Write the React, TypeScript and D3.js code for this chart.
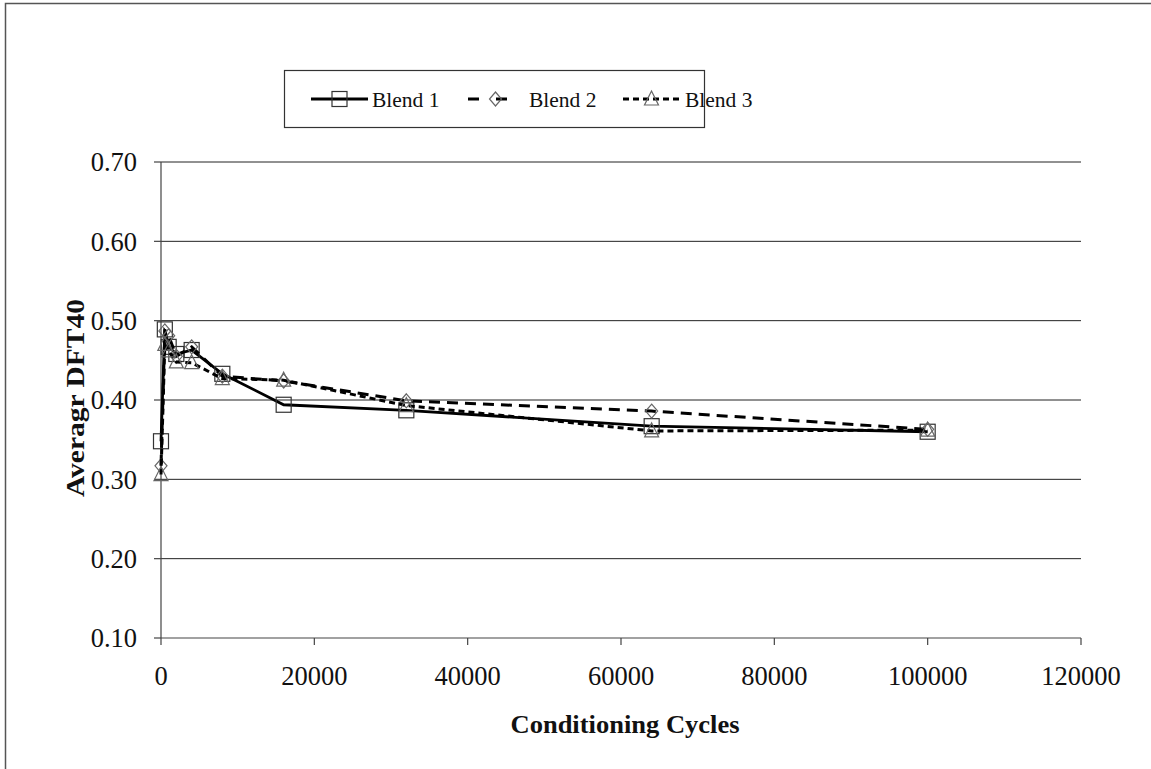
import React from "react";
import * as d3 from "d3";

const cycles = [0, 500, 1000, 2000, 4000, 8000, 16000, 32000, 64000, 100000];
const blend1 = [0.348, 0.489, 0.467, 0.458, 0.463, 0.433, 0.394, 0.387, 0.367, 0.360];
const blend2 = [0.317, 0.487, 0.481, 0.455, 0.467, 0.430, 0.424, 0.399, 0.386, 0.363];
const blend3 = [0.306, 0.470, 0.462, 0.448, 0.447, 0.427, 0.425, 0.393, 0.361, 0.362];
const seriesNames = ["Blend 1", "Blend 2", "Blend 3"];
const xTicks = [0, 20000, 40000, 60000, 80000, 100000, 120000];
const yTicks = [0.1, 0.2, 0.3, 0.4, 0.5, 0.6, 0.7];

const W = 1151;
const H = 769;
const FONT = "'Liberation Serif', 'Times New Roman', serif";

const x = d3.scaleLinear().domain([0, 120000]).range([161, 1081]);
const y = d3.scaleLinear().domain([0.1, 0.7]).range([638, 162]);

type Marker = "square" | "diamond" | "triangle";
const styles: { dash: string; width: number; marker: Marker }[] = [
  { dash: "none", width: 2.8, marker: "square" },
  { dash: "11 7", width: 3, marker: "diamond" },
  { dash: "6 4", width: 3, marker: "triangle" },
];

function MarkerShape({ kind, cx, cy }: { kind: Marker; cx: number; cy: number }) {
  if (kind === "square") {
    return <rect x={cx - 7.5} y={cy - 7.5} width={15} height={15} fill="none" stroke="#333" strokeWidth={1.2} />;
  }
  if (kind === "diamond") {
    return (
      <path
        d={`M${cx},${cy - 7}L${cx + 6},${cy}L${cx},${cy + 7}L${cx - 6},${cy}Z`}
        fill="none"
        stroke="#666"
        strokeWidth={1.2}
      />
    );
  }
  return (
    <path
      d={`M${cx},${cy - 8}L${cx + 7},${cy + 6}L${cx - 7},${cy + 6}Z`}
      fill="none"
      stroke="#666"
      strokeWidth={1.2}
    />
  );
}

export default function App() {
  const data = [blend1, blend2, blend3];
  const line = d3
    .line<number>()
    .x((_, i) => x(cycles[i]))
    .y((v) => y(v));

  const legendItems = [
    { lx: 311, tx: 372 },
    { lx: 467, tx: 529 },
    { lx: 623, tx: 685 },
  ];

  return (
    <svg
      width={W}
      height={H}
      style={{ position: "absolute", left: 0, top: 0, background: "#fff" }}
      fontFamily={FONT}
    >
      <rect x={5.5} y={3.5} width={W + 20} height={H + 20} fill="#fff" stroke="#555" strokeWidth={1.5} />

      {/* gridlines */}
      {yTicks.slice(1).map((t) => (
        <line key={t} x1={x(0)} x2={x(120000)} y1={y(t)} y2={y(t)} stroke="#222" strokeWidth={1} />
      ))}

      {/* axes */}
      <line x1={x(0)} x2={x(0)} y1={y(0.7)} y2={y(0.1)} stroke="#444" strokeWidth={1.2} />
      <line x1={x(0)} x2={x(120000)} y1={y(0.1)} y2={y(0.1)} stroke="#444" strokeWidth={1.2} />
      {yTicks.map((t) => (
        <g key={t}>
          <line x1={x(0) - 7} x2={x(0)} y1={y(t)} y2={y(t)} stroke="#444" strokeWidth={1.2} />
          <text x={137} y={y(t)} dy="0.35em" textAnchor="end" fontSize={26.5} fill="#111">
            {t.toFixed(2)}
          </text>
        </g>
      ))}
      {xTicks.map((t) => (
        <g key={t}>
          <line x1={x(t)} x2={x(t)} y1={y(0.1)} y2={y(0.1) + 7} stroke="#444" strokeWidth={1.2} />
          <text x={x(t)} y={685} textAnchor="middle" fontSize={26.5} fill="#111">
            {t}
          </text>
        </g>
      ))}

      {/* series */}
      {data.map((vals, si) => (
        <g key={si}>
          <path
            d={line(vals) || ""}
            fill="none"
            stroke="#000"
            strokeWidth={styles[si].width}
            strokeDasharray={styles[si].dash}
          />
          {vals.map((v, i) => (
            <MarkerShape key={i} kind={styles[si].marker} cx={x(cycles[i])} cy={y(v)} />
          ))}
        </g>
      ))}

      {/* axis titles */}
      <text
        x={625}
        y={733}
        textAnchor="middle"
        fontSize={25}
        fontWeight="bold"
        fill="#111"
        textLength={229}
        lengthAdjust="spacingAndGlyphs"
      >
        Conditioning Cycles
      </text>
      <text
        transform={`translate(84,398) rotate(-90)`}
        textAnchor="middle"
        fontSize={25}
        fontWeight="bold"
        fill="#111"
        textLength={198}
        lengthAdjust="spacingAndGlyphs"
      >
        Averagr DFT40
      </text>

      {/* legend */}
      <rect x={284.5} y={70.5} width={420} height={57} fill="#fff" stroke="#333" strokeWidth={1.2} />
      {legendItems.map((it, si) => (
        <g key={si}>
          <line
            x1={it.lx}
            x2={it.lx + 57}
            y1={99}
            y2={99}
            stroke="#000"
            strokeWidth={styles[si].width}
            strokeDasharray={si === 0 ? "none" : si === 1 ? "11 17" : "6 4"}
            strokeDashoffset={si === 1 ? -1 : 0}
          />
          <MarkerShape kind={styles[si].marker} cx={it.lx + 28.5} cy={99} />
          <text x={it.tx} y={99} dy="0.35em" fontSize={21.5} fill="#111">
            {seriesNames[si]}
          </text>
        </g>
      ))}
    </svg>
  );
}
